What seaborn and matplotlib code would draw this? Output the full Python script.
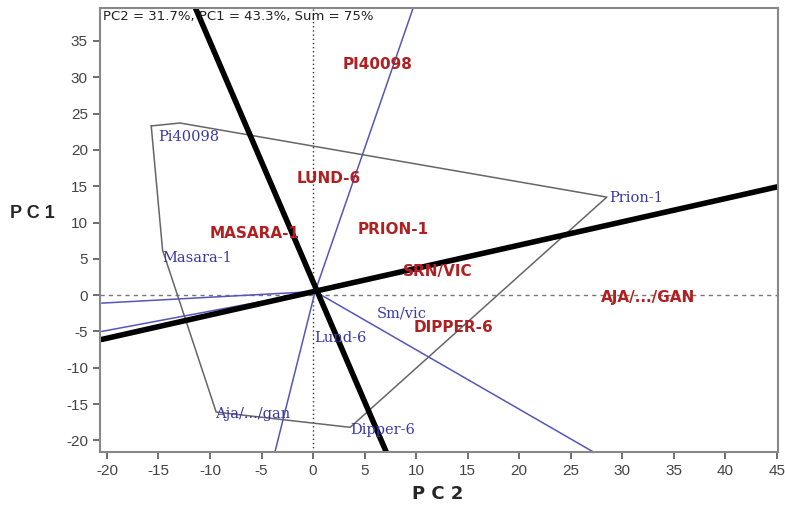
import numpy as np
import pandas as pd
import seaborn as sns
import matplotlib.pyplot as plt

# polygon hull vertices (genotype side)
hull_x = [-15.7, -12.9, 28.5, 3.6, -9.4, -14.6, -15.7]
hull_y = [23.3, 23.7, 13.5, -18.2, -16.1, 6.2, 23.3]

# blue labels (lower-case names)
blue_names = ["Pi40098", "Masara-1", "Prion-1", "Sm/vic", "Lund-6", "Aja/.../gan", "Dipper-6"]
blue_x = [-15.0, -14.6, 28.7, 6.2, 0.1, -9.5, 3.6]
blue_y = [21.8, 5.1, 13.4, -2.5, -5.9, -16.3, -18.6]

# red labels (upper-case names)
red_names = ["PI40098", "LUND-6", "MASARA-1", "PRION-1", "SRN/VIC", "AJA/.../GAN", "DIPPER-6"]
red_x = [6.3, 1.5, -5.7, 7.8, 12.1, 32.5, 13.6]
red_y = [31.7, 16.0, 8.5, 9.0, 3.2, -0.3, -4.4]

# sector rays from origin
origin = (0.2, 0.5)
ray_x = [9.7, 27.2, -3.7, -20.5, -20.5]
ray_y = [39.5, -21.6, -21.6, -1.1, -5.0]

# thick black axes lines
thick_x = [[-11.4, 7.1], [-20.5, 45.0]]
thick_y = [[39.5, -21.6], [-6.1, 14.9]]

x_ticks = list(range(-20, 50, 5))
y_ticks = list(range(-20, 40, 5))

sns.set_style("ticks")
plt.rcParams['font.family'] = ['Liberation Sans', 'DejaVu Sans']
plt.rcParams['axes.unicode_minus'] = False

fig = plt.figure(figsize=(7.85, 5.16), dpi=100)
ax = fig.add_axes([0.127, 0.124, 0.864, 0.860])

ax.axhline(0, color="#777777", ls=(0, (3, 3)), lw=1.0, zorder=1)
ax.axvline(0, color="#333333", ls=(0, (1, 2)), lw=1.0, zorder=1)

sns.lineplot(x=hull_x, y=hull_y, sort=False, estimator=None, color="#666666", lw=1.1, ax=ax)

for ex, ey in zip(ray_x, ray_y):
    sns.lineplot(x=[origin[0], ex], y=[origin[1], ey], sort=False, estimator=None,
                 color="#5555bb", lw=1.1, ax=ax)

for tx, ty in zip(thick_x, thick_y):
    sns.lineplot(x=tx, y=ty, sort=False, estimator=None, color="black", lw=4, ax=ax)

for name, x, y in zip(blue_names, blue_x, blue_y):
    ax.text(x, y, name, color="#3a3aa6", fontsize=10.5, family="DejaVu Serif",
            ha="left", va="center", zorder=5)

for name, x, y in zip(red_names, red_x, red_y):
    ax.text(x, y, name, color="#b02020", fontsize=11, fontweight="bold",
            family="DejaVu Sans", ha="center", va="center", zorder=5)

ax.text(0.005, 0.997, "PC2 = 31.7%, PC1 = 43.3%, Sum = 75%", transform=ax.transAxes,
        fontsize=9.5, family="DejaVu Sans", color="#222222", ha="left", va="top")

ax.set_xlim(-20.7, 45.1)
ax.set_ylim(-21.6, 39.5)
ax.set_xticks(x_ticks)
ax.set_yticks(y_ticks)
ax.tick_params(colors="#555555", labelcolor="#444444", labelsize=11, length=5, width=1.2)
for s in ax.spines.values():
    s.set_color("#888888")
    s.set_linewidth(1.5)

fig.text(0.558, 0.025, "P C 2", fontsize=13, fontweight="bold", family="DejaVu Sans",
         ha="center", va="bottom")
fig.text(0.013, 0.587, "P C 1", fontsize=13, fontweight="bold", ha="left", va="center")

fig.savefig("out.png", dpi=100)
